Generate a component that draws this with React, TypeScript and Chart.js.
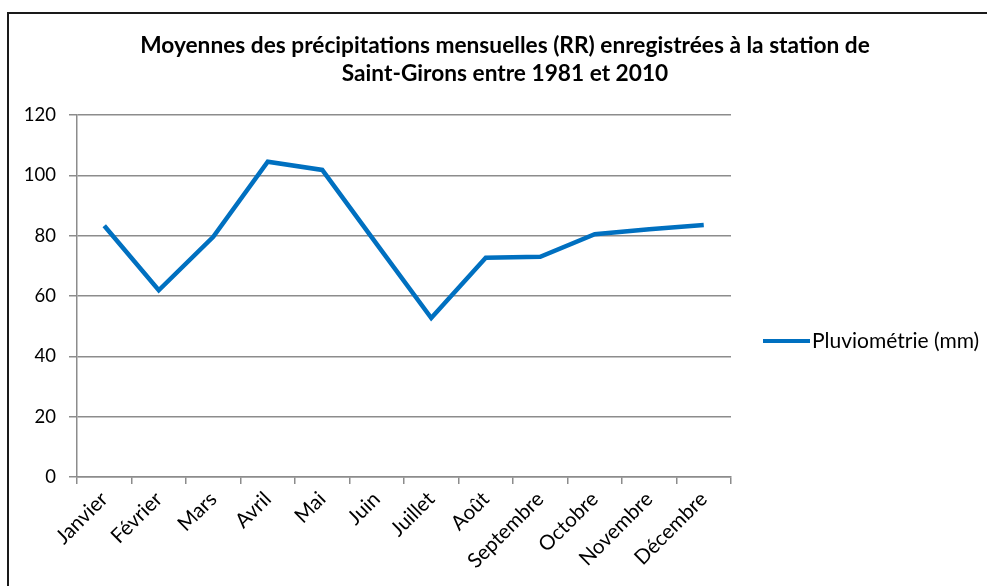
import React, { useEffect, useRef } from "react";
import { Chart, registerables } from "chart.js";

Chart.register(...registerables);

const months: string[] = [
  "Janvier", "Février", "Mars", "Avril", "Mai", "Juin",
  "Juillet", "Août", "Septembre", "Octobre", "Novembre", "Décembre",
];
const rainfall: number[] = [83.3, 61.9, 79.6, 104.5, 101.8, 77.2, 52.7, 72.7, 73.0, 80.5, 82.1, 83.5];
const seriesLabel = "Pluviométrie (mm)";
const titleLines: string[] = [
  "Moyennes des précipitations mensuelles (RR) enregistrées à la station de",
  "Saint-Girons entre 1981 et 2010",
];
const yMin = 0;
const yMax = 120;
const yStep = 20;

const FONT = "Lato, 'Open Sans', sans-serif";
const LINE_COLOR = "#0070C0";
const GRID_COLOR = "#8c8c8c";

const CANVAS_W = 992;
const CANVAS_H = 572;

const decorPlugin = {
  id: "excelDecor",
  afterDraw(chart: any) {
    const ctx = chart.ctx;
    ctx.save();
    // Title
    ctx.fillStyle = "#000";
    ctx.font = `bold 22.7px ${FONT}`;
    ctx.textAlign = "center";
    ctx.textBaseline = "middle";
    const cx = CANVAS_W / 2;
    titleLines.forEach((t, i) => ctx.fillText(t, cx, 32 + i * 28));
    // Legend
    const ds = chart.data.datasets[0];
    const ly = 327;
    ctx.strokeStyle = ds.borderColor;
    ctx.lineWidth = 4;
    ctx.lineCap = "butt";
    ctx.beginPath();
    ctx.moveTo(754, ly);
    ctx.lineTo(801, ly);
    ctx.stroke();
    ctx.fillStyle = "#000";
    ctx.font = `21px ${FONT}`;
    ctx.textAlign = "left";
    ctx.fillText(ds.label, 803, ly);
    ctx.restore();
  },
};

export default function App() {
  const ref = useRef<HTMLCanvasElement | null>(null);
  useEffect(() => {
    if (!ref.current) return;
    const chart = new Chart(ref.current, {
      type: "line",
      data: {
        labels: months,
        datasets: [
          {
            label: seriesLabel,
            data: rainfall,
            borderColor: LINE_COLOR,
            backgroundColor: LINE_COLOR,
            borderWidth: 4.5,
            pointRadius: 0,
            tension: 0,
            borderJoinStyle: "miter",
          },
        ],
      },
      options: {
        responsive: false,
        animation: false,
        layout: { padding: { top: 101, right: 270, left: 0, bottom: 0 } },
        plugins: {
          legend: { display: false },
          title: { display: false },
          tooltip: { enabled: false },
        },
        scales: {
          x: {
            offset: true,
            grid: {
              offset: true,
              drawOnChartArea: false,
              drawTicks: true,
              tickLength: 7,
              color: GRID_COLOR,
              lineWidth: 1.5,
            },
            border: { display: true, color: GRID_COLOR, width: 1.5 },
            ticks: {
              minRotation: 45,
              maxRotation: 45,
              autoSkip: false,
              color: "#000",
              padding: 3,
              font: { family: FONT, size: 20.5 },
            },
            afterFit: (scale: any) => {
              scale.height = 109;
            },
          },
          y: {
            min: yMin,
            max: yMax,
            grid: {
              drawOnChartArea: true,
              drawTicks: true,
              tickLength: 8,
              color: GRID_COLOR,
              lineWidth: 1.5,
            },
            border: { display: true, color: GRID_COLOR, width: 1.5 },
            ticks: {
              stepSize: yStep,
              color: "#000",
              padding: 13,
              font: { family: FONT, size: 18.5 },
            },
            afterFit: (scale: any) => {
              scale.width = 68;
            },
          },
        },
      },
      plugins: [decorPlugin],
    });
    return () => chart.destroy();
  }, []);

  return (
    <div
      style={{
        position: "fixed",
        left: 7,
        top: 12,
        width: 1000,
        height: 600,
        borderTop: "2px solid #1a1a1a",
        borderLeft: "2px solid #1a1a1a",
        background: "#fff",
      }}
    >
      <canvas ref={ref} width={CANVAS_W} height={CANVAS_H} style={{ display: "block" }} />
    </div>
  );
}
